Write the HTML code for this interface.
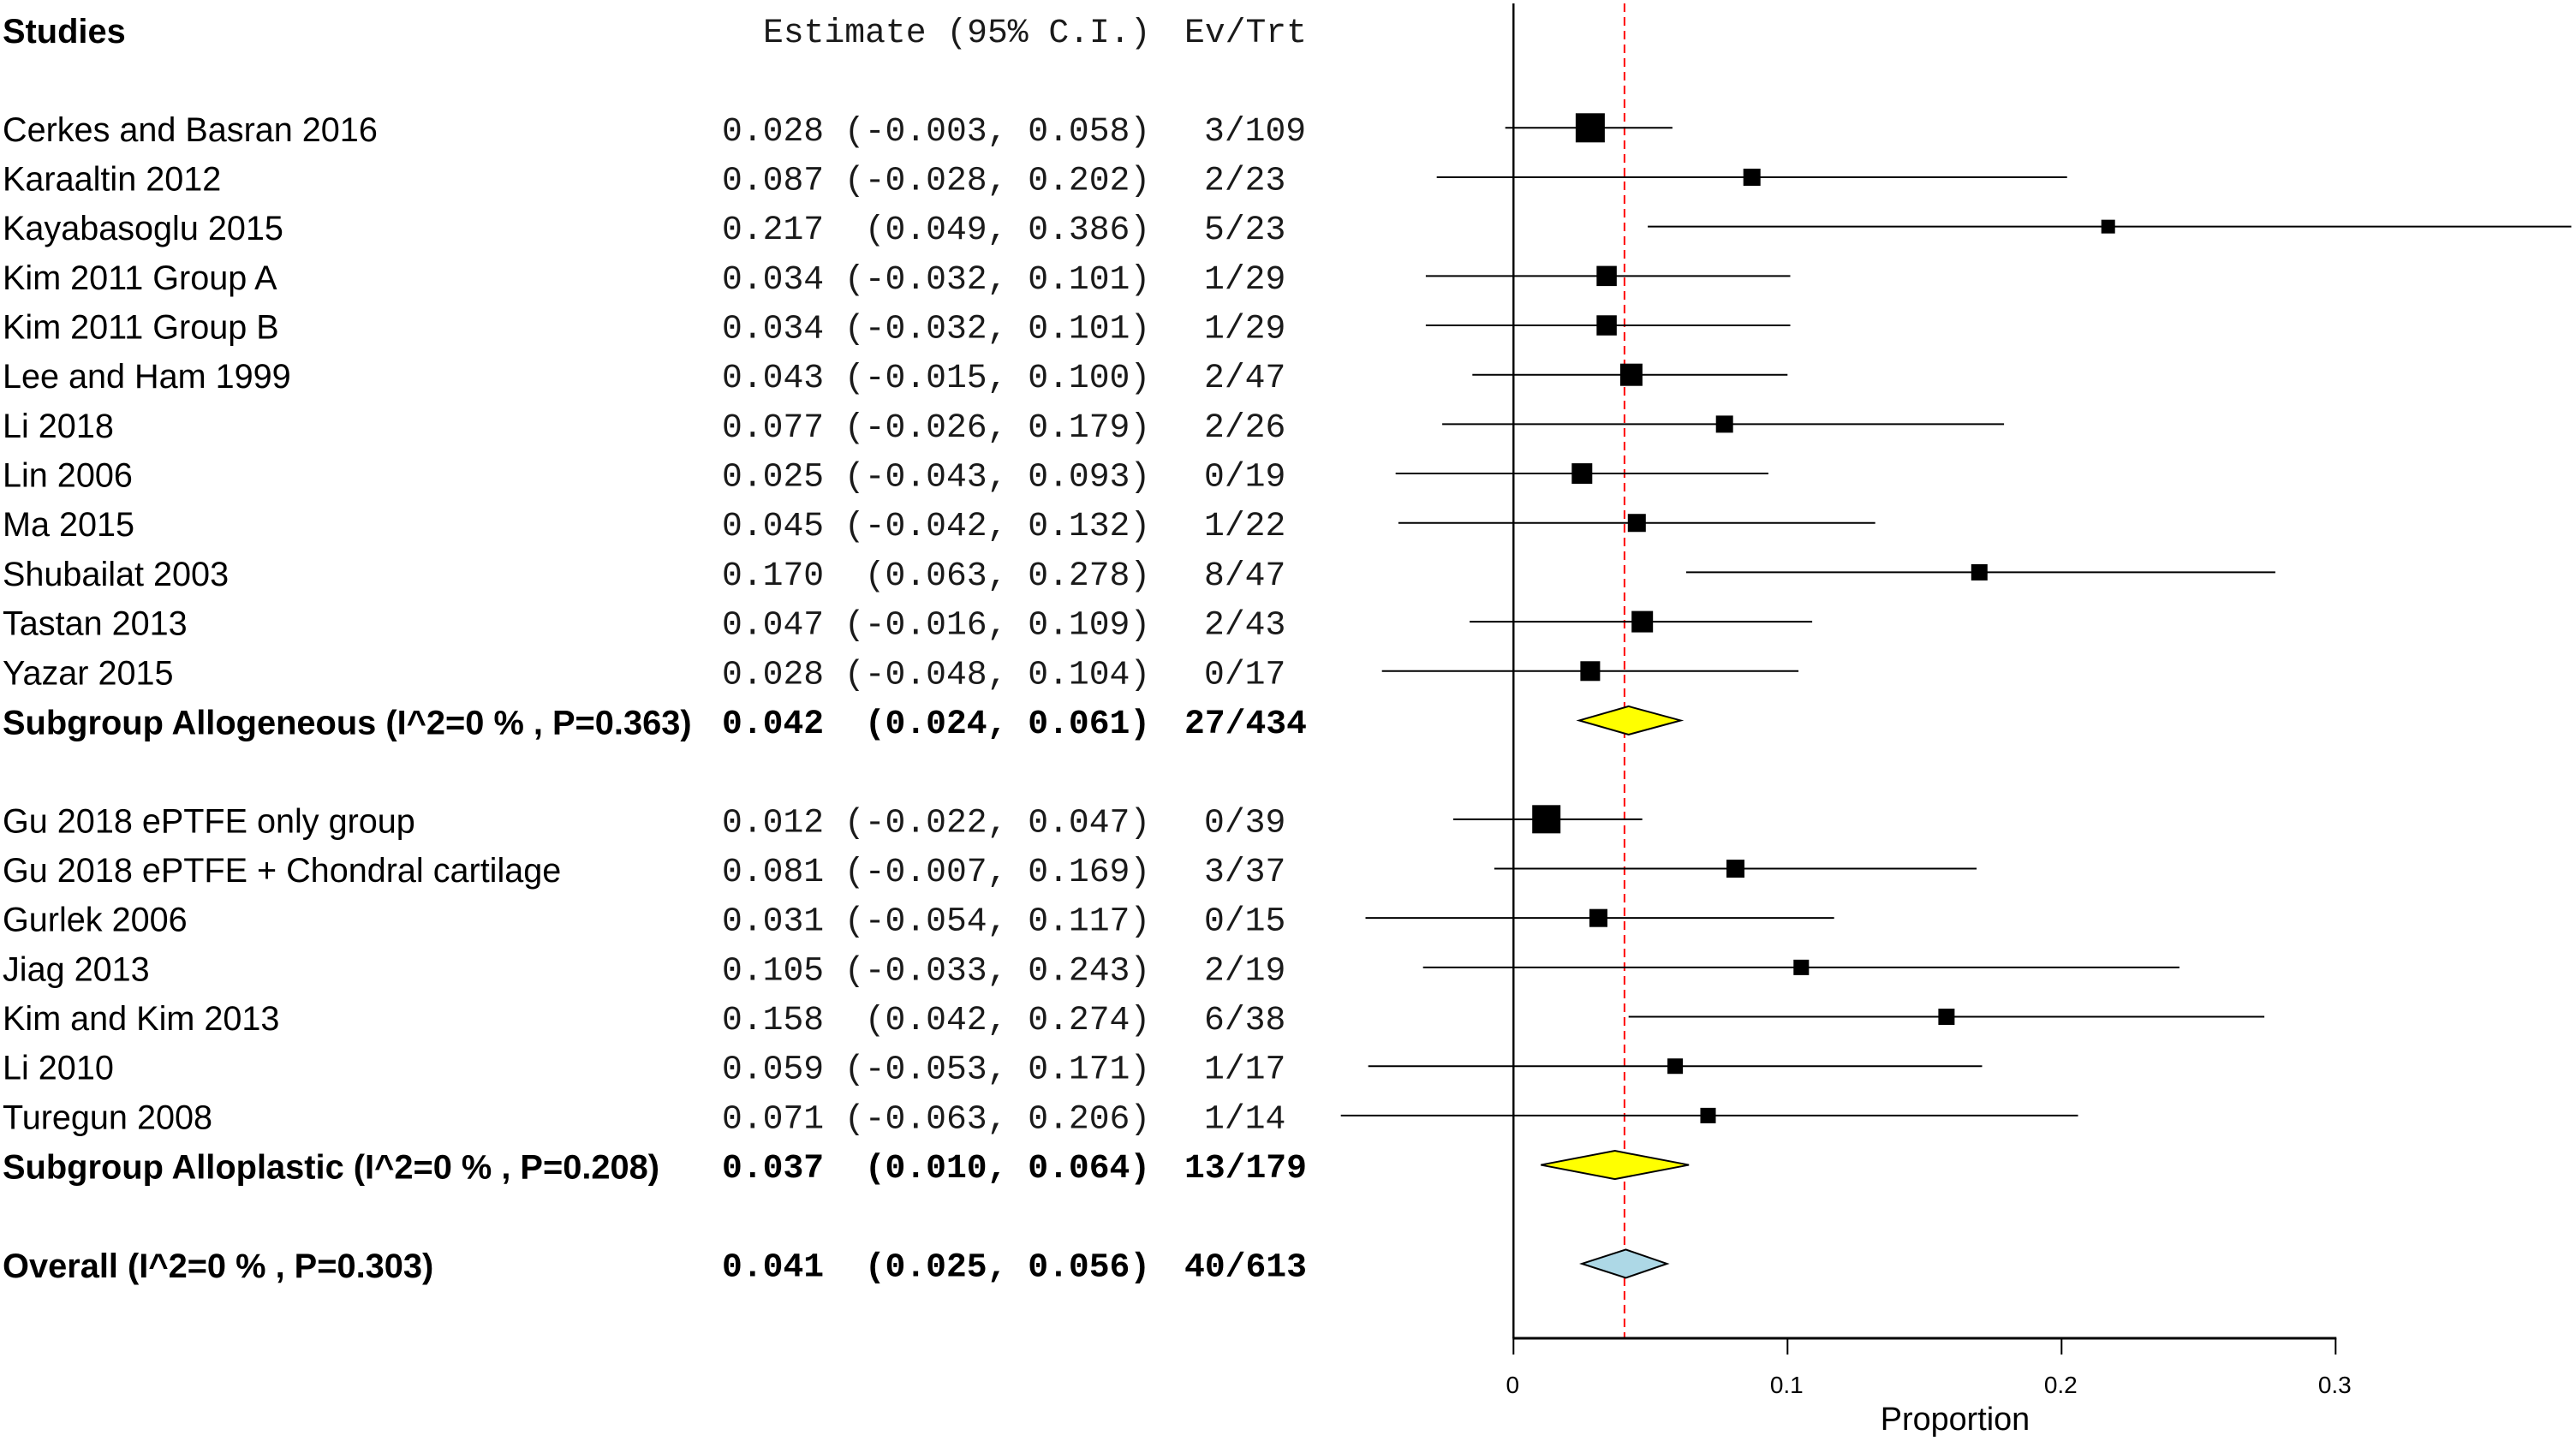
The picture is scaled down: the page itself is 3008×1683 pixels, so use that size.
<!DOCTYPE html>
<html lang="en">
<head>
<meta charset="utf-8">
<title>Forest plot of proportions by subgroup</title>
<style>
html,body{margin:0;padding:0;background:#fff;width:3008px;height:1683px;overflow:hidden}
svg{display:block}
text{white-space:pre}
.sans{font-family:"Liberation Sans",Arial,sans-serif;font-size:39.6px;fill:#000}
.sans.bold{font-size:39.8px}
.mono{font-family:"Liberation Mono","Courier New",monospace;font-size:39.7px;fill:#1a1a1a}
.bold{font-weight:bold;fill:#000}
</style>
</head>
<body>
<svg id="chart" xmlns="http://www.w3.org/2000/svg" width="3008" height="1683" viewBox="0 0 3008 1683">
  <rect x="0" y="0" width="3008" height="1683" fill="#ffffff"></rect>
  <text class="sans bold" x="3" y="50">Studies</text>
  <text class="mono" x="891" y="49">Estimate (95% C.I.)</text>
  <text class="mono" x="1383" y="49">Ev/Trt</text>
  <text class="sans" style="font-size:37.8px" x="2283" y="1670" text-anchor="middle">Proportion</text>
</svg>
<script>
// Individual studies, in plotted order
const studies = ["Cerkes and Basran 2016","Karaaltin 2012","Kayabasoglu 2015","Kim 2011 Group A","Kim 2011 Group B","Lee and Ham 1999","Li 2018","Lin 2006","Ma 2015","Shubailat 2003","Tastan 2013","Yazar 2015","Gu 2018 ePTFE only group","Gu 2018 ePTFE + Chondral cartilage","Gurlek 2006","Jiag 2013","Kim and Kim 2013","Li 2010","Turegun 2008"];
const estimates = [0.028,0.087,0.217,0.034,0.034,0.043,0.077,0.025,0.045,0.170,0.047,0.028,0.012,0.081,0.031,0.105,0.158,0.059,0.071];
const lowers = [-0.003,-0.028,0.049,-0.032,-0.032,-0.015,-0.026,-0.043,-0.042,0.063,-0.016,-0.048,-0.022,-0.007,-0.054,-0.033,0.042,-0.053,-0.063];
const uppers = [0.058,0.202,0.386,0.101,0.101,0.100,0.179,0.093,0.132,0.278,0.109,0.104,0.047,0.169,0.117,0.243,0.274,0.171,0.206];
const events = ["3/109","2/23","5/23","1/29","1/29","2/47","2/26","0/19","1/22","8/47","2/43","0/17","0/39","3/37","0/15","2/19","6/38","1/17","1/14"];
const weights = [35.6,12.3,7.9,17,17,20.8,12.3,17.7,13.6,11.1,19.2,16.3,33.5,13.6,13.6,10,11.1,10,10];

// Number of studies in each subgroup
const groupSizes = [12,7];

// Pooled rows: subgroup summaries, then overall
const summaryLabels = ["Subgroup Allogeneous (I^2=0 % , P=0.363)","Subgroup Alloplastic (I^2=0 % , P=0.208)","Overall (I^2=0 % , P=0.303)"];
const summaryEstimates = [0.042,0.037,0.041];
const summaryLowers = [0.024,0.010,0.025];
const summaryUppers = [0.061,0.064,0.056];
const summaryEvents = ["27/434","13/179","40/613"];

// Axis
const xTicks = [0,0.1,0.2,0.3];
const xTickLabels = ["0","0.1","0.2","0.3"];
const referenceValue = 0.0405;

const NS = "http://www.w3.org/2000/svg";
const svg = document.getElementById("chart");

function xScale(v){ return 1767.3 + v * 3200; }
function yScale(slot){ return 149.3 + slot * 57.68; }
function squareSide(w){ return 5.7 * Math.sqrt(w); }

function make(tag, attrs, content){
  const el = document.createElementNS(NS, tag);
  for (const k in attrs) el.setAttribute(k, attrs[k]);
  if (content !== undefined) el.textContent = content;
  svg.appendChild(el);
  return el;
}
function ciText(est, lo, hi){
  const left = "(" + lo.toFixed(3);
  return est.toFixed(3) + " " + left.padStart(7, " ") + ", " + hi.toFixed(3) + ")";
}

// Slots: each study row, a summary row, then one blank row per group
const studySlots = [];
const summarySlots = [];
let cursor = 0;
groupSizes.forEach(function(size){
  for (let i = 0; i < size; i++) { studySlots.push(cursor); cursor++; }
  summarySlots.push(cursor);
  cursor += 2;
});
summarySlots.push(cursor);

const axisY = 1563;

// Reference line
const refLine = make("line", {x1:xScale(referenceValue), x2:xScale(referenceValue), y1:4, y2:axisY, stroke:"#ff0000", "stroke-width":2, "stroke-dasharray":"10 6"});



// Zero line
const zeroLine = make("line", {x1:xScale(0), x2:xScale(0), y1:4, y2:axisY, stroke:"#000", "stroke-width":2.4});



// X axis
const axisLine = make("line", {x1:xScale(xTicks[0])-1, x2:xScale(xTicks[xTicks.length-1])+1, y1:axisY, y2:axisY, stroke:"#000", "stroke-width":3});



xTicks.forEach(function(t, i){
  const tick = make("line", {x1:xScale(t), x2:xScale(t), y1:axisY, y2:1582, stroke:"#000", "stroke-width":2});
  
  
  const label = make("text", {x:xScale(t)-1, y:1627, "text-anchor":"middle", "class":"sans", style:"font-size:28px"}, xTickLabels[i]);
  
  
});

// Study rows
studies.forEach(function(name, i){
  const y = yScale(studySlots[i]);
  const label = make("text", {x:3, y:y+15.5, "class":"sans"}, name);
  
  
  const stats = make("text", {x:843, y:y+14.5, "class":"mono"}, ciText(estimates[i], lowers[i], uppers[i]));
  
  
  const ev = make("text", {x:1406, y:y+14.5, "class":"mono"}, events[i]);
  
  
  const ci = make("line", {x1:xScale(lowers[i]), x2:xScale(uppers[i]), y1:y, y2:y, stroke:"#000", "stroke-width":2});
  
  
  const side = squareSide(weights[i]);
  const square = make("rect", {x:xScale(estimates[i])-side/2, y:y-side/2, width:side, height:side, fill:"#000"});
  
  
});

// Pooled rows
const summaryFills = ["#ffff00","#ffff00","#add8e6"];
summaryLabels.forEach(function(name, i){
  const y = yScale(summarySlots[i]);
  const label = make("text", {x:3, y:y+16, "class":"sans bold"}, name);
  
  
  const stats = make("text", {x:843, y:y+14.5, "class":"mono bold"}, ciText(summaryEstimates[i], summaryLowers[i], summaryUppers[i]));
  
  
  const ev = make("text", {x:1383, y:y+14.5, "class":"mono bold"}, summaryEvents[i]);
  
  
  const pts = [
    [xScale(summaryLowers[i]), y],
    [xScale(summaryEstimates[i]), y-16.5],
    [xScale(summaryUppers[i]), y],
    [xScale(summaryEstimates[i]), y+16.5]
  ].map(function(p){ return p.join(","); }).join(" ");
  const diamond = make("polygon", {points:pts, fill:summaryFills[i], stroke:"#000", "stroke-width":2});
  
  
});
</script>
</body>
</html>
